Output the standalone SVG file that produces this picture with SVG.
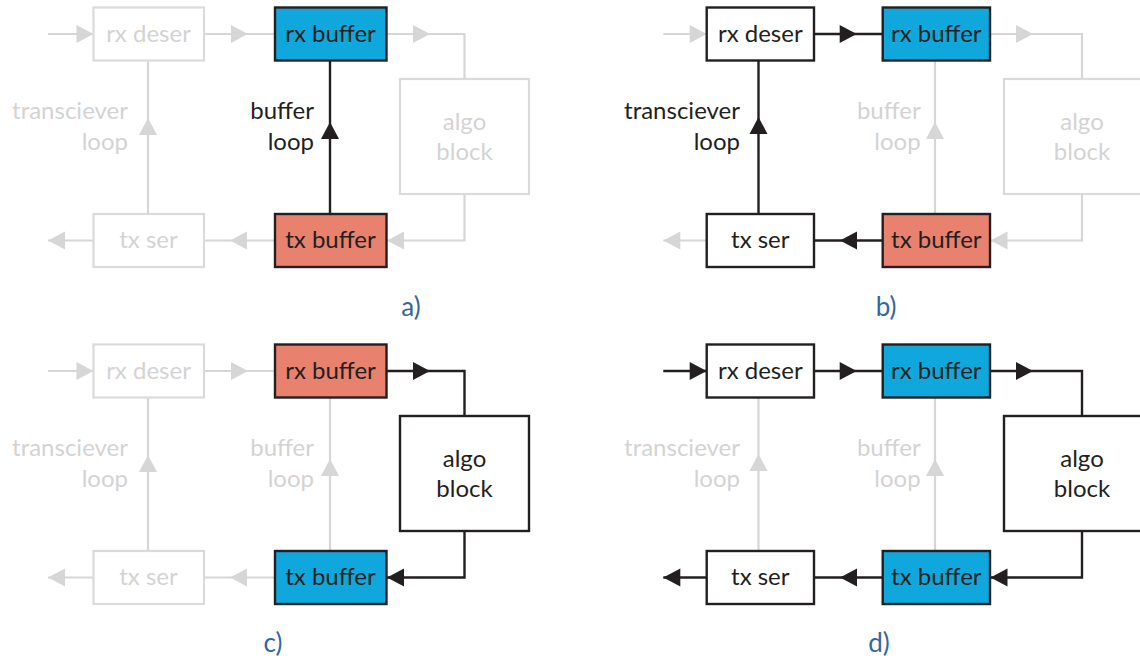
<svg xmlns="http://www.w3.org/2000/svg" xmlns:xlink="http://www.w3.org/1999/xlink" width="1140" height="661" viewBox="0 0 1140 661">
  <style>
    .on { stroke: #231f20; stroke-width: 2.4; fill: none; }
    .off { stroke: #d6d6d6; stroke-width: 2.2; fill: none; }
    .bon { stroke: #231f20; stroke-width: 2.4; }
    .boff { fill: #ffffff; stroke: #dadada; stroke-width: 2.2; }
    .white { fill: #ffffff; }
    .blue { fill: #10a8dc; }
    .salmon { fill: #e8826f; }
    .t { font-family: Lato, "Open Sans", "DejaVu Sans", sans-serif; font-size: 24px; }
    .c { text-anchor: middle; }
    .r { text-anchor: end; }
    .ton { fill: #231f20; }
    .toff { fill: #d3d3d3; }
    .hon { fill: #231f20; }
    .hoff { fill: #d6d6d6; }
    .cap { font-family: Lato, "Open Sans", "DejaVu Sans", sans-serif; font-size: 26px; fill: #35679e; text-anchor: middle; }
  </style>
  <defs>
    <!-- arrowhead pointing right, tip at the origin -->
    <path id="ah" d="M0,0 L-17,-9 L-17,9 Z"/>
  </defs>
  <rect width="1140" height="661" fill="#ffffff"/>

  <!-- a) buffer loop -->
  <g id="panel-a">
    <g id="a-connectors">
      <path class="off" d="M48,34 H93.5"/>
      <use xlink:href="#ah" class="hoff" transform="translate(93.5,34)"/>
      <path class="off" d="M204,34 H275"/>
      <use xlink:href="#ah" class="hoff" transform="translate(248,34)"/>
      <path class="off" d="M386.5,34 H464.5 V79"/>
      <use xlink:href="#ah" class="hoff" transform="translate(430,34)"/>
      <path class="off" d="M464.5,194 V240.5 H386.5"/>
      <use xlink:href="#ah" class="hoff" transform="translate(387,240.5) rotate(180)"/>
      <path class="off" d="M275,240.5 H204"/>
      <use xlink:href="#ah" class="hoff" transform="translate(230,240.5) rotate(180)"/>
      <path class="off" d="M93.5,240.5 H48"/>
      <use xlink:href="#ah" class="hoff" transform="translate(48,240.5) rotate(180)"/>
      <path class="off" d="M148,214 V60.5"/>
      <use xlink:href="#ah" class="hoff" transform="translate(148,118) rotate(-90)"/>
      <path class="on" d="M330,214 V60.5"/>
      <use xlink:href="#ah" class="hon" transform="translate(330,122) rotate(-90)"/>
    </g>
    <g id="a-loop-labels">
      <text class="t r toff" x="128" y="119">transciever</text>
      <text class="t r toff" x="128" y="150">loop</text>
      <text class="t r ton" x="314" y="119">buffer</text>
      <text class="t r ton" x="314" y="150">loop</text>
    </g>
    <g id="a-rx-deser">
      <rect class="boff" x="93.5" y="7.5" width="110.5" height="53"/>
      <text class="t c toff" x="148.5" y="42">rx deser</text>
    </g>
    <g id="a-rx-buffer">
      <rect class="bon blue" x="275" y="7.5" width="111.5" height="53"/>
      <text class="t c ton" x="330.5" y="42">rx buffer</text>
    </g>
    <g id="a-algo-block">
      <rect class="boff" x="400" y="79" width="129" height="115"/>
      <text class="t c toff" x="464.5" y="130">algo</text>
      <text class="t c toff" x="464.5" y="160">block</text>
    </g>
    <g id="a-tx-ser">
      <rect class="boff" x="93.5" y="214" width="110.5" height="53"/>
      <text class="t c toff" x="148.5" y="248">tx ser</text>
    </g>
    <g id="a-tx-buffer">
      <rect class="bon salmon" x="275" y="214" width="111.5" height="53"/>
      <text class="t c ton" x="330.5" y="248">tx buffer</text>
    </g>
    <text class="cap" x="411" y="316">a)</text>
  </g>

  <!-- b) transceiver loop -->
  <g id="panel-b">
    <g id="b-connectors">
      <path class="off" d="M663.3,34 H706.7"/>
      <use xlink:href="#ah" class="hoff" transform="translate(706.7,34)"/>
      <path class="on" d="M814,34 H882.7"/>
      <use xlink:href="#ah" class="hon" transform="translate(856.7,34)"/>
      <path class="off" d="M990,34 H1082 V79"/>
      <use xlink:href="#ah" class="hoff" transform="translate(1033,34)"/>
      <path class="off" d="M1082,194 V240.5 H990"/>
      <use xlink:href="#ah" class="hoff" transform="translate(990.5,240.5) rotate(180)"/>
      <path class="on" d="M882.7,240.5 H814"/>
      <use xlink:href="#ah" class="hon" transform="translate(840,240.5) rotate(180)"/>
      <path class="off" d="M706.7,240.5 H663.3"/>
      <use xlink:href="#ah" class="hoff" transform="translate(663.3,240.5) rotate(180)"/>
      <path class="on" d="M758.5,214 V60.5"/>
      <use xlink:href="#ah" class="hon" transform="translate(758.5,117) rotate(-90)"/>
      <path class="off" d="M935,214 V60.5"/>
      <use xlink:href="#ah" class="hoff" transform="translate(935,122) rotate(-90)"/>
    </g>
    <g id="b-loop-labels">
      <text class="t r ton" x="740" y="119">transciever</text>
      <text class="t r ton" x="740" y="150">loop</text>
      <text class="t r toff" x="920.7" y="119">buffer</text>
      <text class="t r toff" x="920.7" y="150">loop</text>
    </g>
    <g id="b-rx-deser">
      <rect class="bon white" x="706.7" y="7.5" width="107.3" height="53"/>
      <text class="t c ton" x="760.3" y="42">rx deser</text>
    </g>
    <g id="b-rx-buffer">
      <rect class="bon blue" x="882.7" y="7.5" width="107.3" height="53"/>
      <text class="t c ton" x="936.3" y="42">rx buffer</text>
    </g>
    <g id="b-algo-block">
      <rect class="boff" x="1004" y="79" width="156" height="115"/>
      <text class="t c toff" x="1082" y="130">algo</text>
      <text class="t c toff" x="1082" y="160">block</text>
    </g>
    <g id="b-tx-ser">
      <rect class="bon white" x="706.7" y="214" width="107.3" height="53"/>
      <text class="t c ton" x="760.3" y="248">tx ser</text>
    </g>
    <g id="b-tx-buffer">
      <rect class="bon salmon" x="882.7" y="214" width="107.3" height="53"/>
      <text class="t c ton" x="936.3" y="248">tx buffer</text>
    </g>
    <text class="cap" x="886" y="316">b)</text>
  </g>

  <!-- c) algorithm path -->
  <g id="panel-c" transform="translate(0,337)">
    <g id="c-connectors">
      <path class="off" d="M48,34 H93.5"/>
      <use xlink:href="#ah" class="hoff" transform="translate(93.5,34)"/>
      <path class="off" d="M204,34 H275"/>
      <use xlink:href="#ah" class="hoff" transform="translate(248,34)"/>
      <path class="on" d="M386.5,34 H464.5 V79"/>
      <use xlink:href="#ah" class="hon" transform="translate(430,34)"/>
      <path class="on" d="M464.5,194 V240.5 H386.5"/>
      <use xlink:href="#ah" class="hon" transform="translate(387,240.5) rotate(180)"/>
      <path class="off" d="M275,240.5 H204"/>
      <use xlink:href="#ah" class="hoff" transform="translate(230,240.5) rotate(180)"/>
      <path class="off" d="M93.5,240.5 H48"/>
      <use xlink:href="#ah" class="hoff" transform="translate(48,240.5) rotate(180)"/>
      <path class="off" d="M148,214 V60.5"/>
      <use xlink:href="#ah" class="hoff" transform="translate(148,118) rotate(-90)"/>
      <path class="off" d="M330,214 V60.5"/>
      <use xlink:href="#ah" class="hoff" transform="translate(330,122) rotate(-90)"/>
    </g>
    <g id="c-loop-labels">
      <text class="t r toff" x="128" y="119">transciever</text>
      <text class="t r toff" x="128" y="150">loop</text>
      <text class="t r toff" x="314" y="119">buffer</text>
      <text class="t r toff" x="314" y="150">loop</text>
    </g>
    <g id="c-rx-deser">
      <rect class="boff" x="93.5" y="7.5" width="110.5" height="53"/>
      <text class="t c toff" x="148.5" y="42">rx deser</text>
    </g>
    <g id="c-rx-buffer">
      <rect class="bon salmon" x="275" y="7.5" width="111.5" height="53"/>
      <text class="t c ton" x="330.5" y="42">rx buffer</text>
    </g>
    <g id="c-algo-block">
      <rect class="bon white" x="400" y="79" width="129" height="115"/>
      <text class="t c ton" x="464.5" y="130">algo</text>
      <text class="t c ton" x="464.5" y="160">block</text>
    </g>
    <g id="c-tx-ser">
      <rect class="boff" x="93.5" y="214" width="110.5" height="53"/>
      <text class="t c toff" x="148.5" y="248">tx ser</text>
    </g>
    <g id="c-tx-buffer">
      <rect class="bon blue" x="275" y="214" width="111.5" height="53"/>
      <text class="t c ton" x="330.5" y="248">tx buffer</text>
    </g>
    <text class="cap" x="273" y="315">c)</text>
  </g>

  <!-- d) full chain -->
  <g id="panel-d" transform="translate(0,337)">
    <g id="d-connectors">
      <path class="on" d="M663.3,34 H706.7"/>
      <use xlink:href="#ah" class="hon" transform="translate(706.7,34)"/>
      <path class="on" d="M814,34 H882.7"/>
      <use xlink:href="#ah" class="hon" transform="translate(856.7,34)"/>
      <path class="on" d="M990,34 H1082 V79"/>
      <use xlink:href="#ah" class="hon" transform="translate(1033,34)"/>
      <path class="on" d="M1082,194 V240.5 H990"/>
      <use xlink:href="#ah" class="hon" transform="translate(990.5,240.5) rotate(180)"/>
      <path class="on" d="M882.7,240.5 H814"/>
      <use xlink:href="#ah" class="hon" transform="translate(840,240.5) rotate(180)"/>
      <path class="on" d="M706.7,240.5 H663.3"/>
      <use xlink:href="#ah" class="hon" transform="translate(663.3,240.5) rotate(180)"/>
      <path class="off" d="M758.5,214 V60.5"/>
      <use xlink:href="#ah" class="hoff" transform="translate(758.5,117) rotate(-90)"/>
      <path class="off" d="M935,214 V60.5"/>
      <use xlink:href="#ah" class="hoff" transform="translate(935,122) rotate(-90)"/>
    </g>
    <g id="d-loop-labels">
      <text class="t r toff" x="740" y="119">transciever</text>
      <text class="t r toff" x="740" y="150">loop</text>
      <text class="t r toff" x="920.7" y="119">buffer</text>
      <text class="t r toff" x="920.7" y="150">loop</text>
    </g>
    <g id="d-rx-deser">
      <rect class="bon white" x="706.7" y="7.5" width="107.3" height="53"/>
      <text class="t c ton" x="760.3" y="42">rx deser</text>
    </g>
    <g id="d-rx-buffer">
      <rect class="bon blue" x="882.7" y="7.5" width="107.3" height="53"/>
      <text class="t c ton" x="936.3" y="42">rx buffer</text>
    </g>
    <g id="d-algo-block">
      <rect class="bon white" x="1004" y="79" width="156" height="115"/>
      <text class="t c ton" x="1082" y="130">algo</text>
      <text class="t c ton" x="1082" y="160">block</text>
    </g>
    <g id="d-tx-ser">
      <rect class="bon white" x="706.7" y="214" width="107.3" height="53"/>
      <text class="t c ton" x="760.3" y="248">tx ser</text>
    </g>
    <g id="d-tx-buffer">
      <rect class="bon blue" x="882.7" y="214" width="107.3" height="53"/>
      <text class="t c ton" x="936.3" y="248">tx buffer</text>
    </g>
    <text class="cap" x="879" y="315">d)</text>
  </g>
</svg>
